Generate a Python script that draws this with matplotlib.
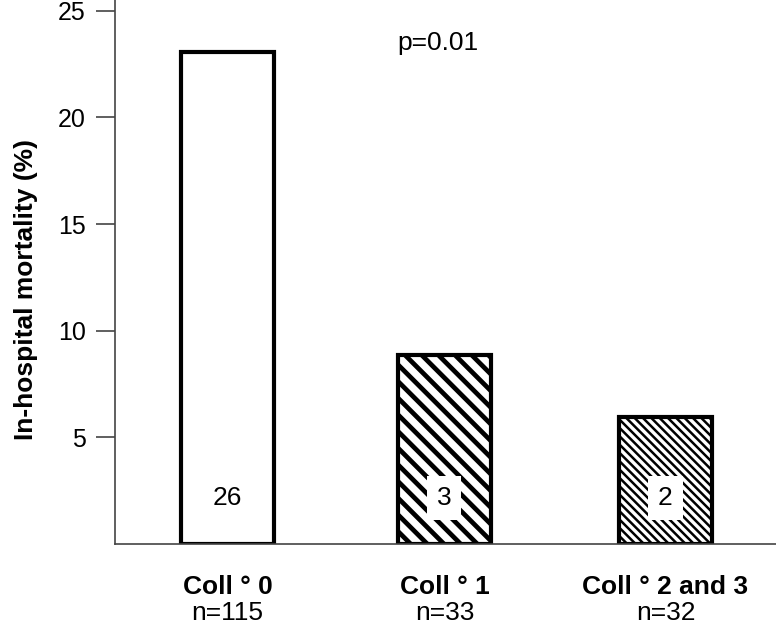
import matplotlib
matplotlib.use('Agg')
from matplotlib import pyplot as plt

plt.rcParams['font.family'] = ['Liberation Sans', 'DejaVu Sans']
plt.rcParams['hatch.linewidth'] = 3.0

groups = ['Coll ° 0', 'Coll ° 1', 'Coll ° 2 and 3']
counts = ['n=115', 'n=33', 'n=32']
mortality = [23.05, 8.87, 5.93]
deaths = ['26', '3', '2']
hatches = ['', '\\\\', '\\\\\\\\']
hatch_lw = [1.0, 3.4, 1.8]
yticks = [5, 10, 15, 20, 25]
p_text = 'p=0.01'

fig = plt.figure(figsize=(7.76, 6.26), dpi=100)
ax = fig.add_axes([115/776, 82/626, 661/776, 544/626])

x = [0, 1.0, 2.02]
bars = ax.bar(x, mortality, width=0.43, color='white', edgecolor='black', linewidth=3.0)
for b, h, lw in zip(bars, hatches, hatch_lw):
    b.set_hatch(h)
    if hasattr(b, 'set_hatch_linewidth'):
        b.set_hatch_linewidth(lw)

# death counts in white boxes
for xi, d in zip(x, deaths):
    ax.text(xi, 2.15, d, ha='center', va='center', fontsize=19,
            bbox=dict(facecolor='white', edgecolor='none', pad=7))

ax.text(0.97, 23.5, p_text, ha='center', va='center', fontsize=19)

ax.set_xlim(-0.52, 2.53)
ax.set_ylim(0, 25.5)
ax.set_yticks(yticks)
ax.set_xticks([])
ax.tick_params(axis='y', labelsize=18, length=14, width=1.2, color='#444444', pad=7)
ax.spines['top'].set_visible(False)
ax.spines['right'].set_visible(False)
ax.spines['left'].set_color('#444444')
ax.spines['bottom'].set_color('#444444')
ax.spines['left'].set_linewidth(1.2)
ax.spines['bottom'].set_linewidth(1.2)
ax.set_ylabel('In-hospital mortality (%)', fontsize=19, fontweight='bold')
ax.yaxis.set_label_coords(-0.116, (544-289)/544)

for xi, g, n in zip(x, groups, counts):
    ax.text(xi, -2.0, g, ha='center', va='center', fontsize=19, fontweight='bold')
    ax.text(xi, -3.25, n, ha='center', va='center', fontsize=19)

fig.savefig('out.png', dpi=100)
